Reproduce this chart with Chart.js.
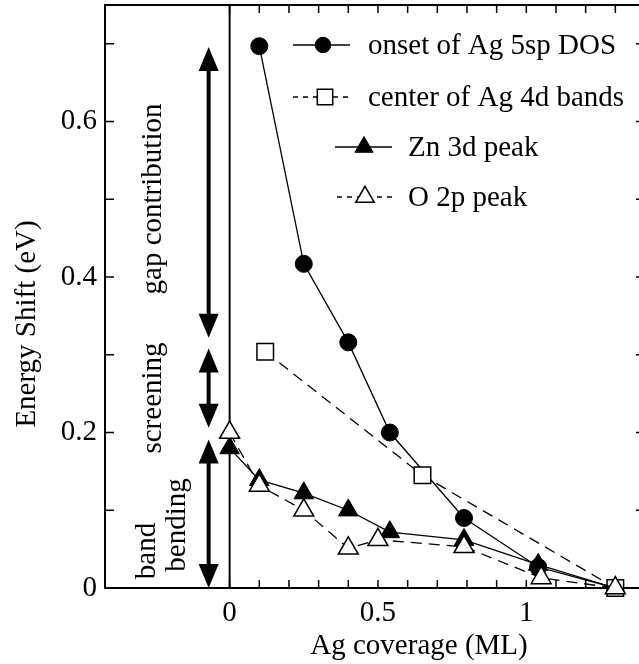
<!DOCTYPE html>
<html>
<head>
<meta charset="utf-8">
<title>Energy shift vs Ag coverage</title>
<script src="https://cdn.jsdelivr.net/npm/chart.js@4.4.1/dist/chart.umd.min.js"></script>
<style>
    html, body { margin: 0; padding: 0; background: #fff; overflow: hidden; }
    canvas { display: block; }
</style>
</head>
<body>
<canvas id="shiftChart" width="648" height="664"></canvas>
<script>
// Data (Ag coverage in ML, energy shift in eV)
const dosCoverage = [0.1, 0.25, 0.4, 0.54, 0.79, 1.04, 1.3];
const dosShift = [0.697, 0.417, 0.316, 0.2, 0.09, 0.027, 0];

const d4Coverage = [0.12, 0.65, 1.3];
const d4Shift = [0.304, 0.145, 0];

const znCoverage = [0, 0.1, 0.25, 0.4, 0.54, 0.79, 1.04, 1.3];
const znShift = [0.18, 0.139, 0.122, 0.1, 0.072, 0.062, 0.03, 0];

const o2pCoverage = [0, 0.1, 0.25, 0.4, 0.5, 0.79, 1.05, 1.3];
const o2pShift = [0.2, 0.132, 0.1, 0.051, 0.062, 0.053, 0.013, 0];

const seriesNames = ['onset of Ag 5sp DOS', 'center of Ag 4d bands', 'Zn 3d peak', 'O 2p peak'];

// Tick marks and labelled ticks
const xTicks = [0, 0.1, 0.2, 0.3, 0.4, 0.5, 0.6, 0.7, 0.8, 0.9, 1, 1.1, 1.2, 1.3];
const xLabelled = [0, 0.5, 1];
const yTicks = [0, 0.1, 0.2, 0.3, 0.4, 0.5, 0.6, 0.7];
const yLabelled = [0, 0.2, 0.4, 0.6];

const xTitle = 'Ag coverage (ML)';
const yTitle = 'Energy Shift (eV)';

// Contribution arrows on the left (data units)
const arrows = [
    { x: -0.0707, from: 0.696, to: 0.322 },
    { x: -0.0707, from: 0.308, to: 0.206 },
    { x: -0.0707, from: 0.191, to: 0 }
];
const notes = [
    { text: 'gap contribution', x: 161, y: 199 },
    { text: 'screening', x: 161, y: 398 },
    { text: 'band', x: 155, y: 551 },
    { text: 'bending', x: 185, y: 525 }
];

// Legend layout (pixels)
const legendRows = [
    { y: 45, lineFrom: 293, lineTo: 350, marker: 323, text: 368 },
    { y: 97, lineFrom: 293, lineTo: 352, marker: 325, text: 368 },
    { y: 147, lineFrom: 335, lineTo: 392, marker: 364, text: 408 },
    { y: 197, lineFrom: 337, lineTo: 392, marker: 365, text: 408 }
];

const FONT = '29px "Liberation Serif", "Times New Roman", serif';
const DASH = [11, 7];

function toPoints(xs, ys) {
    return xs.map((x, i) => ({ x: x, y: ys[i] }));
}

function near(v, list) {
    return list.some(t => Math.abs(t - v) < 1e-6);
}

const datasets = [
    {
        label: seriesNames[0],
        data: toPoints(dosCoverage, dosShift),
        borderColor: '#000', borderWidth: 1.3,
        pointStyle: 'circle', pointRadius: 8.5,
        pointBackgroundColor: '#000', pointBorderColor: '#000', pointBorderWidth: 1,
        order: 4
    },
    {
        label: seriesNames[1],
        data: toPoints(d4Coverage, d4Shift),
        borderColor: '#000', borderWidth: 1.3, borderDash: DASH,
        pointStyle: 'rect', pointRadius: 11.7,
        pointBackgroundColor: '#fff', pointBorderColor: '#000', pointBorderWidth: 1.5,
        order: 3
    },
    {
        label: seriesNames[2],
        data: toPoints(znCoverage, znShift),
        borderColor: '#000', borderWidth: 1.3,
        pointStyle: 'triangle', pointRadius: 11.3,
        pointBackgroundColor: '#000', pointBorderColor: '#000', pointBorderWidth: 1,
        order: 2
    },
    {
        label: seriesNames[3],
        data: toPoints(o2pCoverage, o2pShift),
        borderColor: '#000', borderWidth: 1.3, borderDash: DASH,
        pointStyle: 'triangle', pointRadius: 11.5,
        pointBackgroundColor: '#fff', pointBorderColor: '#000', pointBorderWidth: 1.5,
        order: 1
    }
];

function verticalText(ctx, text, x, y) {
    ctx.save();
    ctx.translate(x, y);
    ctx.rotate(-Math.PI / 2);
    ctx.textAlign = 'center';
    ctx.textBaseline = 'alphabetic';
    ctx.fillText(text, 0, 0);
    ctx.restore();
}

function drawArrow(ctx, px, yTop, yBot) {
    const head = 24, half = 10;
    ctx.lineWidth = 4;
    ctx.beginPath();
    ctx.moveTo(px, yTop + head - 2);
    ctx.lineTo(px, yBot - head + 2);
    ctx.stroke();
    ctx.beginPath();
    ctx.moveTo(px, yTop);
    ctx.lineTo(px - half, yTop + head);
    ctx.lineTo(px + half, yTop + head);
    ctx.closePath();
    ctx.fill();
    ctx.beginPath();
    ctx.moveTo(px, yBot);
    ctx.lineTo(px - half, yBot - head);
    ctx.lineTo(px + half, yBot - head);
    ctx.closePath();
    ctx.fill();
}

function drawMarker(ctx, ds, x, y, radius) {
    ctx.save();
    ctx.setLineDash([]);
    ctx.fillStyle = ds.pointBackgroundColor;
    ctx.strokeStyle = ds.pointBorderColor;
    ctx.lineWidth = ds.pointBorderWidth;
    Chart.helpers.drawPoint(ctx, { pointStyle: ds.pointStyle, radius: radius, rotation: 0, borderWidth: ds.pointBorderWidth }, x, y);
    ctx.restore();
}

const framePlugin = {
    id: 'frame',
    beforeDatasetsDraw(chart) {
        const { ctx, chartArea: a, scales: { x, y } } = chart;
        ctx.save();
        ctx.strokeStyle = '#000';

        // x = 0 line
        const x0 = x.getPixelForValue(0);
        ctx.lineWidth = 2;
        ctx.beginPath();
        ctx.moveTo(x0, a.top);
        ctx.lineTo(x0, a.bottom);
        ctx.stroke();

        // inward ticks on all sides
        ctx.lineWidth = 1.5;
        ctx.beginPath();
        xTicks.forEach(v => {
            const px = x.getPixelForValue(v);
            ctx.moveTo(px, a.bottom);
            ctx.lineTo(px, a.bottom - 8);
            ctx.moveTo(px, a.top);
            ctx.lineTo(px, a.top + 8);
        });
        yTicks.forEach(v => {
            const py = y.getPixelForValue(v);
            ctx.moveTo(a.left, py);
            ctx.lineTo(a.left + 9, py);
            ctx.moveTo(a.right, py);
            ctx.lineTo(a.right - 9, py);
        });
        ctx.stroke();

        ctx.lineWidth = 2;
        ctx.strokeRect(a.left, a.top, a.right - a.left, a.bottom - a.top);
        ctx.restore();
    },
    afterDraw(chart) {
        const { ctx, scales: { x, y } } = chart;
        ctx.save();
        ctx.fillStyle = '#000';
        ctx.strokeStyle = '#000';
        ctx.font = FONT;

        // axis titles
        ctx.textAlign = 'center';
        ctx.textBaseline = 'alphabetic';
        ctx.fillText(xTitle, 419, 654);
        verticalText(ctx, yTitle, 35, 324);

        // arrows and their notes
        arrows.forEach(ar => {
            drawArrow(ctx, x.getPixelForValue(ar.x), y.getPixelForValue(ar.from), y.getPixelForValue(ar.to));
        });
        notes.forEach(n => verticalText(ctx, n.text, n.x, n.y));

        // legend
        legendRows.forEach((row, i) => {
            const ds = chart.data.datasets[i];
            ctx.save();
            ctx.lineWidth = 1.3;
            ctx.setLineDash(ds.borderDash ? [5, 5] : []);
            ctx.beginPath();
            ctx.moveTo(row.lineFrom, row.y);
            ctx.lineTo(row.lineTo, row.y);
            ctx.stroke();
            ctx.restore();
            drawMarker(ctx, ds, row.marker, row.y, ds.pointRadius - 0.8);
            ctx.textAlign = 'left';
            ctx.textBaseline = 'alphabetic';
            ctx.fillText(ds.label, row.text, row.y + 9);
        });
        ctx.restore();
    }
};

const tickFont = { family: '"Liberation Serif", "Times New Roman", serif', size: 29 };

new Chart(document.getElementById('shiftChart').getContext('2d'), {
    type: 'scatter',
    data: { datasets: datasets },
    options: {
        responsive: false,
        animation: false,
        showLine: true,
        layout: { autoPadding: false, padding: { top: 5, right: 3, left: 0, bottom: 0 } },
        datasets: { scatter: { clip: false } },
        plugins: {
            legend: { display: false },
            tooltip: { enabled: false }
        },
        scales: {
            x: {
                type: 'linear',
                min: -0.42,
                max: 1.4,
                afterBuildTicks: s => { s.ticks = xTicks.map(v => ({ value: v })); },
                afterFit: s => { s.height = 76; s.paddingLeft = 0; s.paddingRight = 0; },
                grid: { display: false, drawTicks: false },
                border: { display: false },
                ticks: {
                    autoSkip: false, maxRotation: 0, padding: 8,
                    color: '#000', font: tickFont,
                    callback: v => near(v, xLabelled) ? String(v) : ''
                }
            },
            y: {
                type: 'linear',
                min: 0,
                max: 0.75,
                afterBuildTicks: s => { s.ticks = yTicks.map(v => ({ value: v })); },
                afterFit: s => { s.width = 105; s.paddingTop = 0; s.paddingBottom = 0; },
                grid: { display: false, drawTicks: false },
                border: { display: false },
                ticks: {
                    autoSkip: false, padding: 8,
                    color: '#000', font: tickFont,
                    callback: v => near(v, yLabelled) ? String(v) : ''
                }
            }
        }
    },
    plugins: [framePlugin]
});
</script>
</body>
</html>
